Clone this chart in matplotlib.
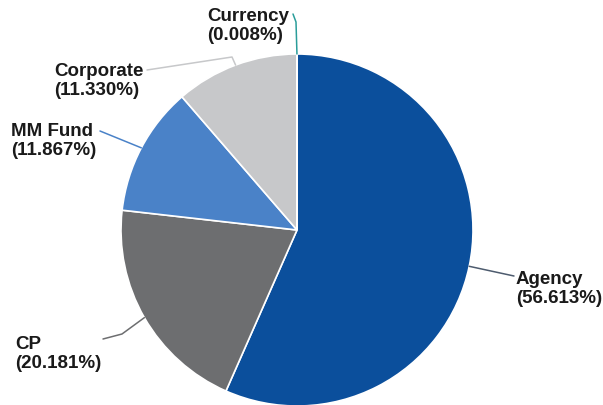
import numpy as np
import matplotlib
matplotlib.use("Agg")
import matplotlib.pyplot as plt

# portfolio allocation by sector, percent
labels = ["Agency", "CP", "MM Fund", "Corporate", "Currency"]
shares = [56.613, 20.181, 11.867, 11.330, 0.008]
colors = ["#0b4f9c", "#6d6e70", "#4a82c8", "#c7c8ca", "#2a9d9a"]
line_colors = ["#4d5b6e", "#6d6e70", "#4a82c8", "#c7c8ca", "#2a9d9a"]

W, H = 603, 405
CX, CY, R = 297, H - 230, 176

# label top-left corners (pixels, y down) and optional elbow for leaders
label_pos = {
    "Agency": (516, 271),
    "CP": (15, 336),
    "MM Fund": (11, 123),
    "Corporate": (54, 63),
    "Currency": (207, 8),
}
leader_end = {
    "Agency": (514, 276),
    "CP": (103, 339),
    "MM Fund": (100, 131),
    "Corporate": (147, 70),
    "Currency": (293, 14),
}
leader_elbow = {
    "Corporate": (232, 57),
    "Currency": (296, 22),
    "CP": (122, 334),
}

fig = plt.figure(figsize=(W / 100, H / 100), dpi=100)
ax = fig.add_axes([0, 0, 1, 1])

wedges, _ = ax.pie(shares, colors=colors, startangle=90, counterclock=False,
                   center=(CX, CY), radius=R,
                   wedgeprops=dict(edgecolor="white", linewidth=1.2))

ax.set_xlim(0, W)
ax.set_ylim(0, H)
ax.set_aspect("equal")
ax.axis("off")

for w, lab, val, lc in zip(wedges, labels, shares, line_colors):
    mid = np.deg2rad((w.theta1 + w.theta2) / 2)
    x0, y0 = CX + R * np.cos(mid), CY + R * np.sin(mid)
    pts = [(x0, y0)]
    if lab in leader_elbow:
        ex, ey = leader_elbow[lab]
        pts.append((ex, H - ey))
    lx, ly = leader_end[lab]
    pts.append((lx, H - ly))
    xs, ys = zip(*pts)
    ax.plot(xs, ys, color=lc, lw=1.1, solid_capstyle="round",
            solid_joinstyle="round", zorder=3)

    tx, ty = label_pos[lab]
    ax.text(tx, H - ty, f"{lab}\n({val:.3f}%)", ha="left", va="top",
            fontsize=13.5, fontweight="bold", color="#1a1a1a",
            family=["Liberation Sans", "DejaVu Sans"], linespacing=1.15)

fig.savefig("out.png", dpi=100)
